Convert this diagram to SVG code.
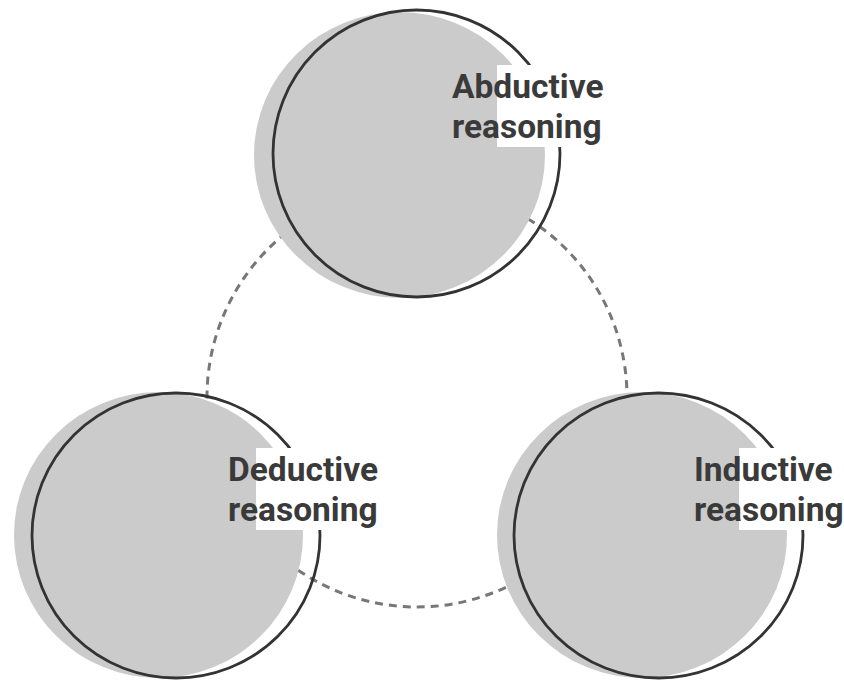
<svg xmlns="http://www.w3.org/2000/svg" width="844" height="681" viewBox="0 0 844 681">
<style>
.fill{fill:#cbcbcb;stroke:none}
.ring{fill:none;stroke:#333;stroke-width:2.8}
.bg{fill:#fff;stroke:none}
.lbl{font-family:Roboto,"Liberation Sans",sans-serif;font-weight:700;font-size:33.5px;fill:#3a3a3a}
.dash{fill:none;stroke:#777;stroke-width:3;stroke-dasharray:8 6}
</style>
<rect width="844" height="681" fill="#fff"/>
<g id="connectors">
<circle class="dash" cx="417" cy="397" r="210"/>
</g>
<g id="abductive">
<ellipse class="fill" cx="399.5" cy="155" rx="145.5" ry="143"/>
<ellipse class="ring" cx="416.5" cy="153.5" rx="143.5" ry="143.5"/>
<rect class="bg" x="497" y="65" width="166" height="82"/>
<text class="lbl" x="452" y="97.5">Abductive</text>
<text class="lbl" x="452" y="138">reasoning</text>
</g>
<g id="deductive">
<ellipse class="fill" cx="158.5" cy="535" rx="144.5" ry="143"/>
<ellipse class="ring" cx="176" cy="535.5" rx="144" ry="142.5"/>
<rect class="bg" x="256" y="448" width="166" height="82"/>
<text class="lbl" x="228" y="480.5">Deductive</text>
<text class="lbl" x="228" y="521">reasoning</text>
</g>
<g id="inductive">
<ellipse class="fill" cx="642" cy="535" rx="145" ry="143"/>
<ellipse class="ring" cx="658.5" cy="535.5" rx="144.5" ry="142.5"/>
<rect class="bg" x="739" y="448" width="166" height="82"/>
<text class="lbl" x="694" y="480.5">Inductive</text>
<text class="lbl" x="694" y="521">reasoning</text>
</g>
</svg>
